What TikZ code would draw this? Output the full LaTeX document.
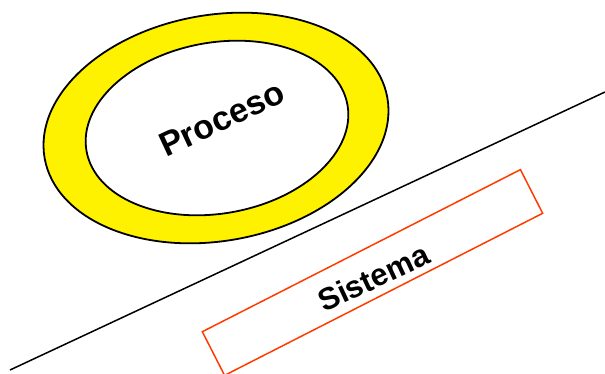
\documentclass[tikz,border=0pt]{standalone}
\usepackage{fontspec}
\setmainfont{Liberation Sans}
\usetikzlibrary{shapes.geometric}
\definecolor{sysred}{RGB}{255,60,0}

\begin{document}
\begin{tikzpicture}[
  x=1pt, y=1pt,
  ring/.style={draw, ellipse, line width=1.8pt, inner sep=0pt, rotate=10},
  sysbox/.style={draw=sysred, line width=1.5pt, minimum width=357pt, minimum height=49pt, inner sep=0pt, rotate=27},
  lbl/.style={font=\bfseries\fontsize{34}{40}\selectfont, inner sep=0pt}
]
\useasboundingbox (0,0) rectangle (605,373);
\node[ring, fill=yellow, minimum width=348pt, minimum height=226pt] (outer) at (216,245) {};
\node[ring, fill=white, minimum width=265pt, minimum height=171pt] (inner) at (217,245) {};
\node[lbl, rotate=25] (proc) at (222,254) {Proceso};

\coordinate (l1) at (10,3);
\coordinate (l2) at (605,281);
\draw[line width=1.5pt] (l1) -- (l2);

\node[sysbox] (sys) at (372.5,100.5) {};
\node[lbl, rotate=25, font=\bfseries\fontsize{31}{37}\selectfont] (syslbl) at (373.5,95.5) {Sistema};
\end{tikzpicture}
\end{document}
